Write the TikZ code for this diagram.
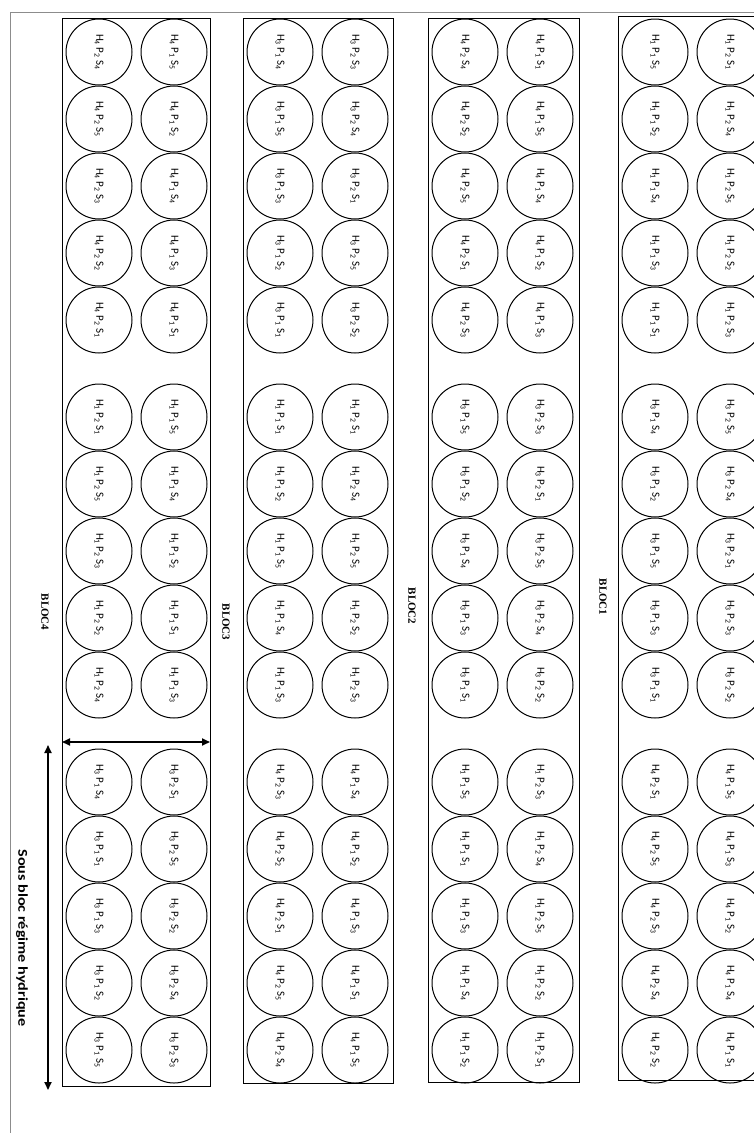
\documentclass[tikz,border=0pt]{standalone}
\usepackage{fontspec}
\setmainfont{Carlito}
\newfontfamily\titlefont{Liberation Serif}
\usetikzlibrary{arrows.meta}
\newcommand\hps[3]{H\textsubscript{#1}\hspace{2.5pt}P\textsubscript{#2}\hspace{2.5pt}S\textsubscript{#3}}
\newcommand\grp[8]{%
  \foreach \s [count=\r from 0] in {#7} {\node[plot] (#1l\r) at (#2+37, #3+67*\r) {\hps{#4}{#5}{\s}};}%
  \foreach \s [count=\r from 0] in {#8} {\node[plot] (#1r\r) at (#2+112, #3+67*\r) {\hps{#4}{#6}{\s}};}%
}
\begin{document}
\begin{tikzpicture}[x=1pt,y=-1pt,
  plot/.style={circle, draw, line width=1pt, minimum size=66pt, inner sep=0pt, rotate=-90, font=\fontsize{11}{12}\selectfont},
  blockbox/.style={draw, line width=0.9pt},
  bloclab/.style={rotate=-90, font=\titlefont\bfseries\fontsize{11}{12}\selectfont},
  sublab/.style={rotate=-90, xscale=1.2, font=\bfseries\fontsize{13.5}{14}\selectfont},
  dimarrow/.style={{Triangle[length=8pt,width=7pt]}-{Triangle[length=8pt,width=7pt]}, line width=1.7pt},
  frame/.style={draw=black!45, line width=0.6pt}
]
\useasboundingbox (0,0) rectangle (754,1133);
\clip (0,0) rectangle (754,1133);
% page frame
\coordinate (fTL) at (10,12);
\coordinate (fTR) at (754,12);
\coordinate (fBL) at (10,1133);
\draw[frame] (fTR) -- (fTL) -- (fBL);
% blocks
\coordinate (b4a) at (62,18);  \coordinate (b4b) at (210,1086);
\coordinate (b3a) at (243,18); \coordinate (b3b) at (393,1083);
\coordinate (b2a) at (428,18); \coordinate (b2b) at (579,1082);
\coordinate (b1a) at (618,16); \coordinate (b1b) at (767,1080);
\draw[blockbox] (b4a) rectangle (b4b);
\draw[blockbox] (b3a) rectangle (b3b);
\draw[blockbox] (b2a) rectangle (b2b);
\draw[blockbox] (b1a) rectangle (b1b);
% BLOC4
\grp{dA}{62}{52}{4}{2}{1}{4,5,3,2,1}{5,2,4,3,1}
\grp{dB}{62}{417}{1}{2}{1}{1,5,3,2,4}{5,4,2,1,3}
\grp{dC}{62}{782}{3}{1}{2}{4,1,3,2,5}{1,5,2,4,3}
% BLOC3
\grp{cA}{243}{52}{3}{1}{2}{4,5,3,2,1}{3,4,1,5,2}
\grp{cB}{243}{417}{1}{1}{2}{1,2,5,4,3}{1,4,5,2,3}
\grp{cC}{243}{782}{4}{2}{1}{3,2,1,5,4}{4,2,3,1,5}
% BLOC2
\grp{bA}{428}{52}{4}{2}{1}{4,2,5,1,3}{1,5,4,2,3}
\grp{bB}{428}{417}{3}{1}{2}{5,2,4,3,1}{3,1,5,4,2}
\grp{bC}{428}{782}{1}{1}{2}{5,1,3,4,2}{3,4,5,2,1}
% BLOC1
\grp{aA}{618}{52}{1}{1}{2}{5,2,4,3,1}{1,4,5,2,3}
\grp{aB}{618}{417}{3}{1}{2}{4,2,5,3,1}{5,4,1,3,2}
\grp{aC}{618}{782}{4}{2}{1}{1,5,3,4,2}{5,3,2,4,1}
% labels
\node[bloclab] (l1) at (603,597) {BLOC1};
\node[bloclab] (l2) at (412,606) {BLOC2};
\node[bloclab] (l3) at (226,622) {BLOC3};
\node[bloclab] (l4) at (45,612) {BLOC4};
\node[sublab] (ls) at (22,938) {Sous bloc régime hydrique};
% dimension arrows
\coordinate (hA) at (62,742);
\coordinate (hB) at (210,742);
\draw[dimarrow] (hA) -- (hB);
\coordinate (vA) at (48,745);
\coordinate (vB) at (48,1090);
\draw[dimarrow] (vA) -- (vB);
\end{tikzpicture}
\end{document}
